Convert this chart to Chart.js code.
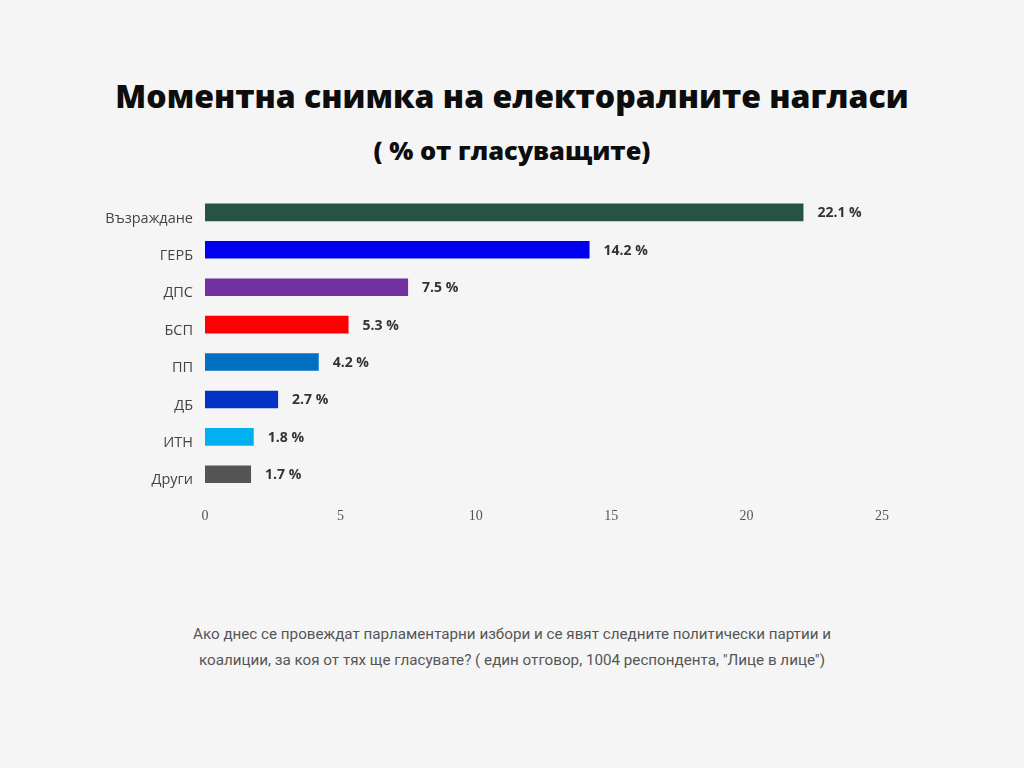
<!DOCTYPE html>
<html>
<head>
<meta charset="utf-8">
<script src="https://cdn.jsdelivr.net/npm/chart.js@4.4.1/dist/chart.umd.min.js"></script>
<style>
  html, body { margin: 0; padding: 0; }
  body { width: 1024px; height: 768px; background: #f5f5f6; position: relative; overflow: hidden; }
  #title { position: absolute; left: 0; width: 1024px; top: 74px; text-align: center;
    font-family: "Open Sans", sans-serif; font-weight: 800; font-size: 32px; color: #0d0d0d; line-height: 44px; }
  #subtitle { position: absolute; left: 0; width: 1024px; top: 132px; text-align: center;
    font-family: "Open Sans", sans-serif; font-weight: 800; font-size: 25.4px; color: #0d0d0d; line-height: 36px; }
  #wrap { position: absolute; left: 0; top: 173px; width: 1024px; height: 367px; }
  #note { position: absolute; left: 0; width: 1024px; top: 621px; text-align: center;
    font-family: Roboto, sans-serif; font-size: 15.2px; color: #555; line-height: 26px; }
</style>
</head>
<body>
<div id="title">Моментна снимка на електоралните нагласи</div>
<div id="subtitle">( % от гласуващите)</div>
<div id="wrap"><canvas id="c"></canvas></div>
<div id="note">Ако днес се провеждат парламентарни избори и се явят следните политически партии и<br>коалиции, за коя от тях ще гласувате? ( един отговор, 1004 респондента, "Лице в лице")</div>
<script>
const parties = ["Възраждане", "ГЕРБ", "ДПС", "БСП", "ПП", "ДБ", "ИТН", "Други"];
const shares = [22.1, 14.2, 7.5, 5.3, 4.2, 2.7, 1.8, 1.7];
const barColors = ["#255443", "#0000ee", "#7030a0", "#ff0000", "#0070c0", "#0033c4", "#00b0f0", "#555555"];
const xTicks = [0, 5, 10, 15, 20, 25];

const valueLabels = {
  id: "valueLabels",
  afterDatasetsDraw(chart) {
    const ctx = chart.ctx;
    const meta = chart.getDatasetMeta(0);
    ctx.save();
    ctx.font = "700 14px 'Open Sans', sans-serif";
    ctx.fillStyle = "#333";
    ctx.textBaseline = "middle";
    ctx.textAlign = "left";
    meta.data.forEach((bar, i) => {
      ctx.fillText(shares[i].toFixed(1) + " %", bar.x + 14, bar.y + 1);
    });
    ctx.restore();
  }
};

new Chart(document.getElementById("c"), {
  type: "bar",
  data: {
    labels: parties,
    datasets: [{
      data: shares,
      backgroundColor: barColors,
      borderWidth: 0,
      categoryPercentage: 1,
      barPercentage: 0.47
    }]
  },
  options: {
    indexAxis: "y",
    responsive: true,
    maintainAspectRatio: false,
    animation: false,
    layout: { padding: { top: 0, right: 142, bottom: 0, left: 0 } },
    plugins: { legend: { display: false }, tooltip: { enabled: false } },
    scales: {
      x: {
        min: 0, max: 25,
        afterBuildTicks(scale) { scale.ticks = xTicks.map(v => ({ value: v })); },
        afterFit(scale) { scale.height = 47; },
        grid: { display: false, drawTicks: false },
        border: { display: false },
        ticks: { padding: 15, color: "#555", font: { family: "'Liberation Serif', serif", size: 14 } }
      },
      y: {
        afterFit(scale) { scale.width = 205; },
        grid: { display: false, drawTicks: false },
        border: { display: false },
        ticks: { padding: 12, labelOffset: 6, color: "#444", font: { family: "'Open Sans', sans-serif", size: 14.5 } }
      }
    }
  },
  plugins: [valueLabels]
});
</script>
</body>
</html>
